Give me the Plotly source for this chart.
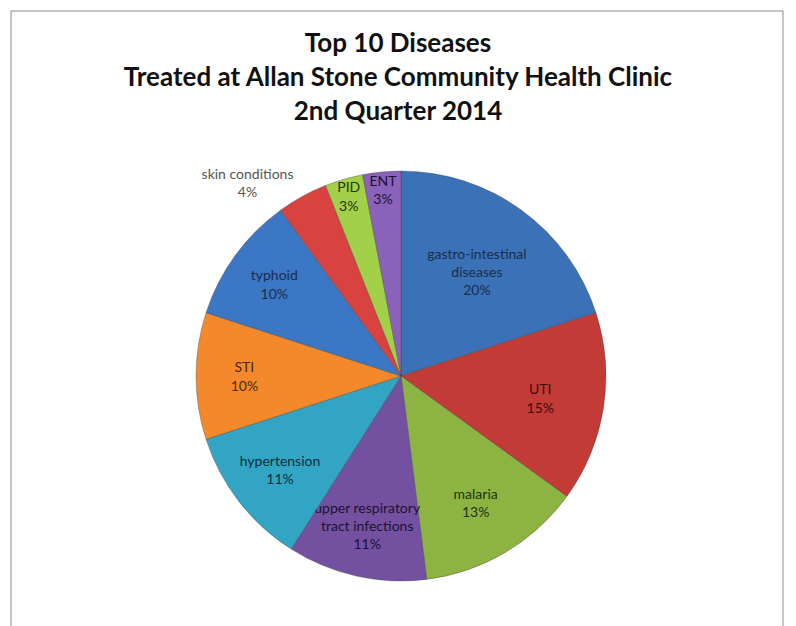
import plotly.graph_objects as go

categories = ["gastro-intestinal diseases", "UTI", "malaria",
              "upper respiratory tract infections", "hypertension", "STI",
              "typhoid", "skin conditions", "PID", "ENT"]
display_labels = ["gastro-intestinal<br>diseases", "UTI", "malaria",
                  "upper respiratory<br>tract infections", "hypertension", "STI",
                  "typhoid", "skin conditions", "PID", "ENT"]
values = [20, 15, 13, 11, 11, 10, 10, 4, 3, 3]
colors = ["#3B71B6", "#C23B37", "#8DB443", "#7451A0", "#33A5C4", "#F4892C",
          "#3B77C4", "#D8433F", "#A2D048", "#8B62BA"]
text_colors = ["#1B2D4A", "#3A0E0E", "#1F3310", "#1B1230", "#0E2F3A", "#4A2A0E",
               "#1B2D4A", "#555555", "#1F3310", "#1B1230"]
positions = ["inside"] * 7 + ["outside", "inside", "inside"]

W, H = 796, 626
cx, cy, r = 401, 376, 205

fig = go.Figure(go.Pie(
    labels=categories,
    values=values,
    text=display_labels,
    sort=False,
    direction="clockwise",
    rotation=0,
    marker=dict(colors=colors, line=dict(color="rgba(60,60,60,0.35)", width=1)),
    texttemplate="%{text}<br>%{percent:.0%}",
    textposition=positions,
    insidetextorientation="horizontal",
    textfont=dict(family="Lato", size=14, color=text_colors),
    hoverinfo="label+percent",
    domain=dict(x=[(cx - r) / W, (cx + r) / W], y=[1 - (cy + r) / H, 1 - (cy - r) / H]),
    showlegend=False,
))

fig.update_layout(
    width=W, height=H,
    margin=dict(l=0, r=0, t=0, b=0),
    paper_bgcolor="white",
    uniformtext=dict(minsize=14, mode="show"),
    title=dict(
        text="Top 10 Diseases<br>Treated at Allan Stone Community Health Clinic<br>2nd Quarter 2014",
        x=0.5, xanchor="center", y=1 - 52 / H, yanchor="top",
        font=dict(family="Lato", size=26, color="#111111", weight="bold"),
    ),
    shapes=[dict(type="rect", xref="paper", yref="paper", layer="above",
                 x0=11 / W, x1=783 / W, y0=-0.05, y1=1 - 11 / H,
                 line=dict(color="#8c8c8c", width=1), fillcolor="rgba(0,0,0,0)")],
)

fig.write_html("out.html", config={"displayModeBar": False},
               post_script="document.body.style.margin='0';")
